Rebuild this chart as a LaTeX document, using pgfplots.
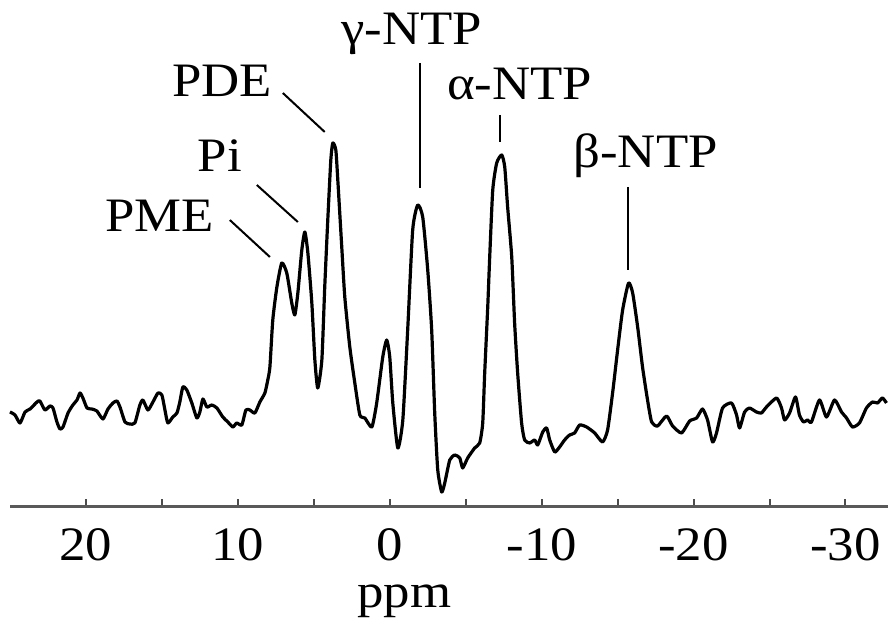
\documentclass[border=0pt]{standalone}
\usepackage{fontspec}
\setmainfont{Liberation Serif}[FakeStretch=1.1]
\usepackage{pgfplots}
\pgfplotsset{compat=1.18}
\usepackage{pgfplotstable}
\pgfplotstableread{
ppm h
25.00 95
24.67 92
24.34 84
24.01 95
23.68 98
23.22 105
23.03 106
22.70 97
22.37 101
22.17 99
21.91 85
21.71 78
21.51 80
21.18 94
20.86 102
20.59 107
20.39 114
20.20 109
19.93 99
19.61 98
19.28 96
18.88 88
18.55 98
18.22 104
17.96 106
17.76 100
17.43 85
17.11 83
16.78 84
16.45 102
16.25 107
15.92 97
15.59 105
15.26 114
15.00 112
14.80 97
14.61 84
14.28 90
14.01 94
13.82 105
13.62 120
13.36 117
13.03 104
12.70 89
12.50 95
12.30 108
12.04 100
11.71 102
11.38 99
10.99 90
10.66 85
10.33 80
10.07 84
9.74 82
9.47 97
9.21 97
8.88 94
8.55 105
8.22 114
8.03 127
7.89 140
7.70 187
7.43 220
7.11 244
6.78 234
6.45 204
6.25 192
6.05 214
5.79 257
5.59 275
5.39 254
5.13 204
4.93 147
4.74 119
4.47 147
4.28 220
4.08 287
3.88 347
3.75 364
3.55 357
3.42 327
3.16 260
2.96 210
2.63 160
2.30 124
1.97 92
1.64 89
1.18 80
0.86 104
0.46 150
0.20 167
0.00 150
-0.20 104
-0.53 59
-0.86 87
-1.18 177
-1.51 277
-1.84 302
-2.17 290
-2.50 237
-2.76 177
-2.96 94
-3.16 37
-3.42 15
-3.62 24
-3.95 47
-4.28 52
-4.61 49
-4.80 39
-5.13 49
-5.59 59
-5.92 64
-6.12 84
-6.25 134
-6.45 200
-6.58 250
-6.78 317
-7.04 344
-7.37 352
-7.57 340
-7.76 300
-8.03 250
-8.22 184
-8.42 134
-8.68 84
-8.88 67
-9.21 64
-9.54 67
-9.74 62
-10.07 75
-10.33 79
-10.53 67
-10.86 55
-11.18 60
-11.51 67
-11.84 72
-12.17 74
-12.50 82
-12.96 80
-13.49 74
-14.01 65
-14.34 77
-14.67 114
-15.00 157
-15.33 197
-15.72 224
-15.99 214
-16.32 180
-16.64 140
-16.97 107
-17.24 85
-17.63 81
-18.22 91
-18.62 81
-19.21 74
-19.74 86
-20.20 89
-20.59 98
-20.92 87
-21.25 65
-21.51 74
-21.91 99
-22.50 104
-22.83 92
-23.03 79
-23.36 95
-23.68 99
-24.14 95
-24.47 94
-24.80 100
-25.46 109
-25.79 99
-25.99 87
-26.32 94
-26.71 110
-26.97 92
-27.24 85
-27.50 87
-27.76 85
-28.29 107
-28.75 90
-29.28 107
-29.74 95
-30.07 89
-30.46 80
-30.92 84
-31.38 99
-31.78 105
-32.11 104
-32.43 109
-32.70 104
}\spectrum
\begin{document}
\fontsize{24}{28}\selectfont
\begin{tikzpicture}
\begin{axis}[
  name=ax, scale only axis, width=439pt, height=253.5pt,
  x dir=reverse, xmin=-32.8, xmax=25, ymin=0, ymax=507,
  axis x line*=bottom, axis y line=none,
  xtick={20,10,0,-10,-20,-30},
  xticklabels={20,10,0,-10,-20,-30},
  minor xtick={15,5,-5,-15,-25},
  major tick length=4pt, minor tick length=4pt,
  tick align=inside,
  every tick/.style={black!70, line width=1pt},
  every minor tick/.style={black!70, line width=1pt},
  x axis line style={line width=1.5pt, black!65, -},
  xticklabel style={anchor=center, yshift=-19pt},
  xlabel={ppm},
  xlabel style={at={(axis description cs:0.449,0)}, anchor=base, yshift=-50.5pt},
  clip=false,
]
\addplot[black, line width=1.6pt, line join=round, smooth, tension=0.35, mark=none] table[x=ppm, y=h] {\spectrum};
\draw[line width=1pt] (axis cs:-1.97,444) -- (axis cs:-1.97,319);
\draw[line width=1pt] (axis cs:-7.24,392) -- (axis cs:-7.24,365);
\draw[line width=1pt] (axis cs:7.04,414) -- (axis cs:4.28,375);
\draw[line width=1pt] (axis cs:8.75,322) -- (axis cs:6.05,285);
\draw[line width=1pt] (axis cs:10.53,287) -- (axis cs:7.89,250);
\draw[line width=1pt] (axis cs:-15.66,320) -- (axis cs:-15.66,237);
\node[anchor=base, inner sep=0pt] at (axis cs:-1.45,462) {γ-NTP};
\node[anchor=base, inner sep=0pt] at (axis cs:-8.55,407) {α-NTP};
\node[anchor=base, inner sep=0pt] at (axis cs:11.05,410) {PDE};
\node[anchor=base, inner sep=0pt] at (axis cs:11.18,335) {Pi};
\node[anchor=base, inner sep=0pt] at (axis cs:15.13,275) {PME};
\node[anchor=base, inner sep=0pt] at (axis cs:-16.84,339) {β-NTP};
\end{axis}
\pgfresetboundingbox
\path ([xshift=-5pt,yshift=-58.5pt]ax.south west) rectangle (ax.north east);
\end{tikzpicture}
\end{document}
